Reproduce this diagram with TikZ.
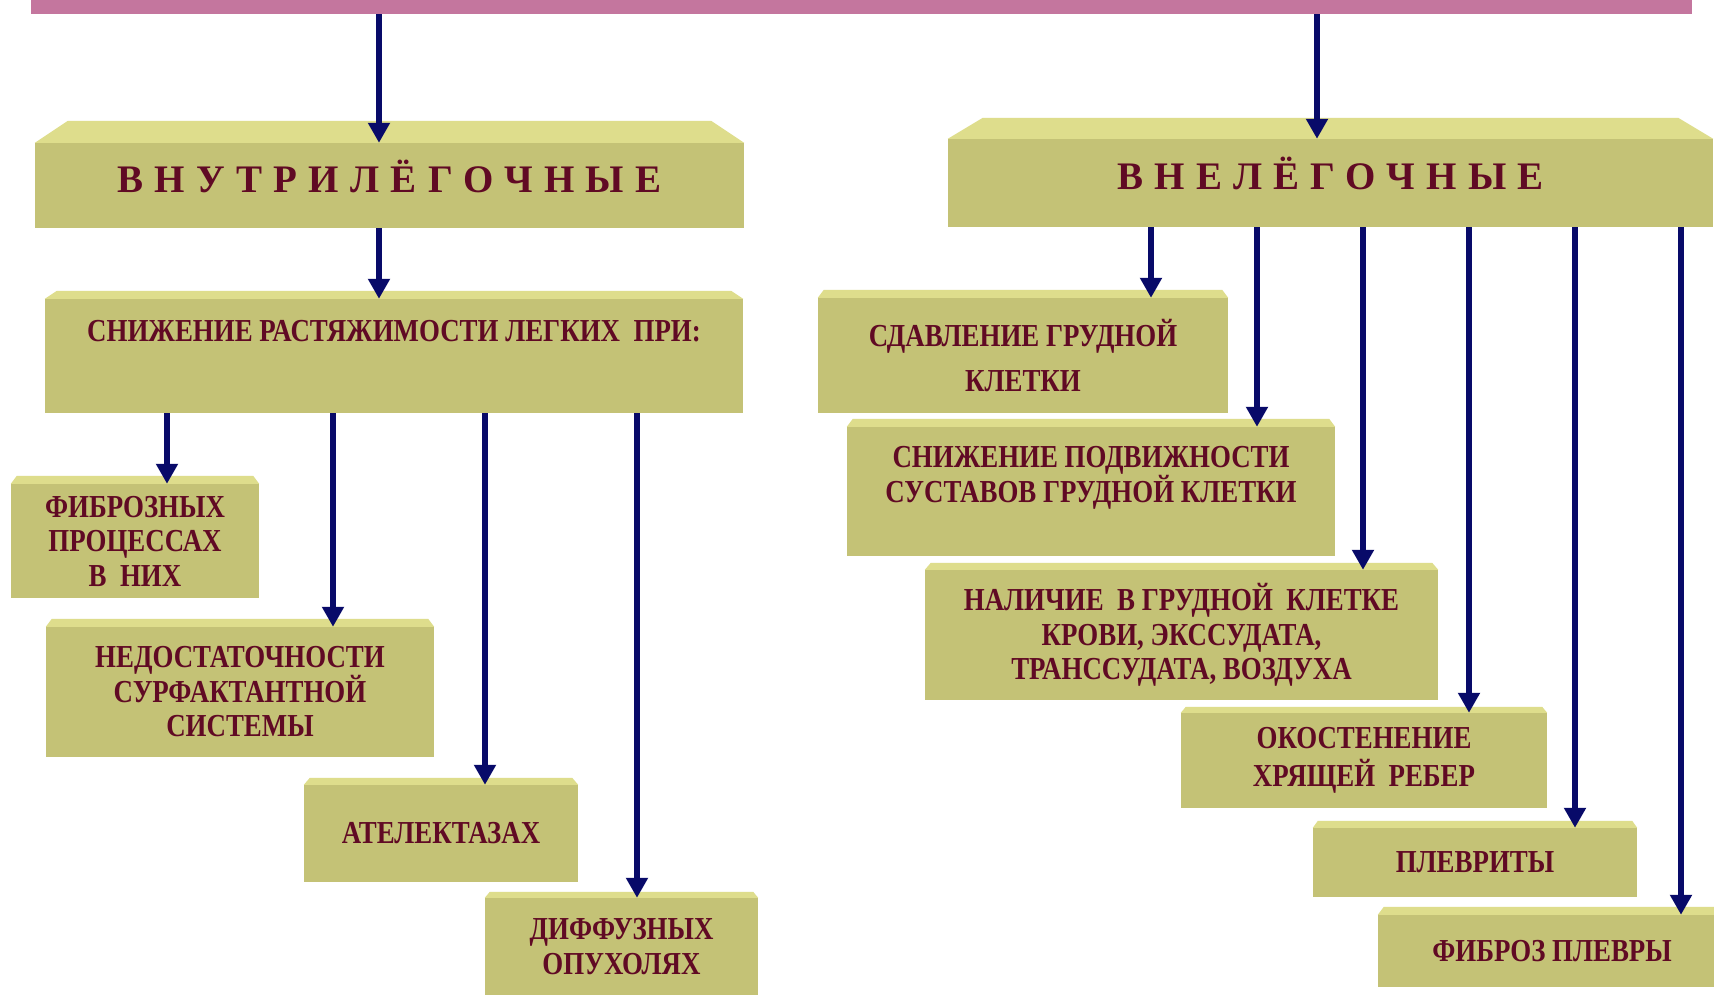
\documentclass[tikz,border=0pt]{standalone}
\usepackage{fontspec}
\setmainfont{Liberation Serif}
\newfontfamily\platefont{Liberation Serif}[FakeStretch=0.84]
\newfontfamily\headfont{Liberation Serif}[LetterSpace=29]
\usetikzlibrary{arrows.meta,calc}
\definecolor{platefill}{RGB}{196,194,118}
\definecolor{platetop}{RGB}{222,221,140}
\definecolor{inkred}{RGB}{96,10,36}
\definecolor{navyline}{RGB}{8,10,105}
\definecolor{barpink}{RGB}{196,118,158}
\tikzset{
	plate/.style={fill=platefill, inner sep=0pt, align=center, text=inkred,
		font=\platefont\bfseries\fontsize{32}{34.5}\selectfont},
	headplate/.style={plate, text height=27pt, text depth=14pt,
		font=\headfont\bfseries\fontsize{39}{42}\selectfont},
	arr/.style={draw=navyline, line width=5.5pt, -{Triangle[length=20pt,width=21pt]}},
}
\begin{document}
\begin{tikzpicture}[x=1pt,y=-1pt]
	\path[use as bounding box, fill=white] (0,0) rectangle (1714,997);
	\node[fill=barpink, inner sep=0pt, minimum width=1661, minimum height=14] (bar) at (861.5,7) {};

	\node[headplate, minimum width=709, minimum height=85] (vnutri) at (389.5,185.5) {ВНУТРИЛЁГОЧНЫЕ};
	\node[headplate, minimum width=765, minimum height=88] (vne) at (1330.5,183) {ВНЕЛЁГОЧНЫЕ};

	% left column
	\node[plate, minimum width=698, minimum height=114] (snizh) at (394,356) {СНИЖЕНИЕ РАСТЯЖИМОСТИ ЛЕГКИХ\ \ ПРИ:\\[15pt] \mbox{}};
	\node[plate, minimum width=248, minimum height=114] (fibr) at (135,541) {ФИБРОЗНЫХ\\ ПРОЦЕССАХ\\ В\ \ НИХ};
	\node[plate, minimum width=388, minimum height=130] (nedost) at (240,692) {НЕДОСТАТОЧНОСТИ\\ СУРФАКТАНТНОЙ\\ СИСТЕМЫ};
	\node[plate, minimum width=274, minimum height=97] (atelek) at (441,833.5) {АТЕЛЕКТАЗАХ};
	\node[plate, minimum width=273, minimum height=97] (diff) at (621.5,946.5) {ДИФФУЗНЫХ\\ ОПУХОЛЯХ};

	% right column
	\node[plate, minimum width=410, minimum height=115] (sdavl) at (1023,355.5) {СДАВЛЕНИЕ ГРУДНОЙ\\[10pt] КЛЕТКИ};
	\node[plate, minimum width=488, minimum height=129] (podv) at (1091,491.5) {СНИЖЕНИЕ ПОДВИЖНОСТИ\\ СУСТАВОВ ГРУДНОЙ КЛЕТКИ\\ \mbox{}};
	\node[plate, minimum width=513, minimum height=130] (nalich) at (1181.5,635) {НАЛИЧИЕ\ \ В ГРУДНОЙ\ \ КЛЕТКЕ\\ КРОВИ, ЭКССУДАТА,\\ ТРАНССУДАТА, ВОЗДУХА};
	\node[plate, minimum width=366, minimum height=95] (okost) at (1364,760.5) {ОКОСТЕНЕНИЕ\\[3pt] ХРЯЩЕЙ\ \ РЕБЕР};
	\node[plate, minimum width=324, minimum height=69] (plevr) at (1475,862.5) {ПЛЕВРИТЫ};
	\node[plate, minimum width=348, minimum height=72] (fibrpl) at (1552,951) {ФИБРОЗ ПЛЕВРЫ};

	% lit top faces
	\foreach \n/\bx/\by in {vnutri/33/22, vne/35/21, snizh/12/8, fibr/6/8, nedost/6/8, atelek/6/7, diff/5/6,
		sdavl/6/8, podv/6/8, nalich/6/7, okost/5/6, plevr/5/7, fibrpl/6/8}
		\fill[platetop] (\n.north west) -- ++(\bx,-\by) -- ($(\n.north east)+(-\bx,-\by)$) -- (\n.north east) -- cycle;

	\foreach \s/\t/\dx in {bar/vnutri/-10.5, bar/vne/-13.5, vnutri/snizh/-15,
		snizh/fibr/32, snizh/nedost/93, snizh/atelek/44, snizh/diff/15.5,
		vne/sdavl/128, vne/podv/166, vne/nalich/181.5, vne/okost/105, vne/plevr/100, vne/fibrpl/129}
		\draw[arr] ($(\t.north |- \s.south)+(\dx,0)$) -- ($(\t.north)+(\dx,0)$);
\end{tikzpicture}
\end{document}
